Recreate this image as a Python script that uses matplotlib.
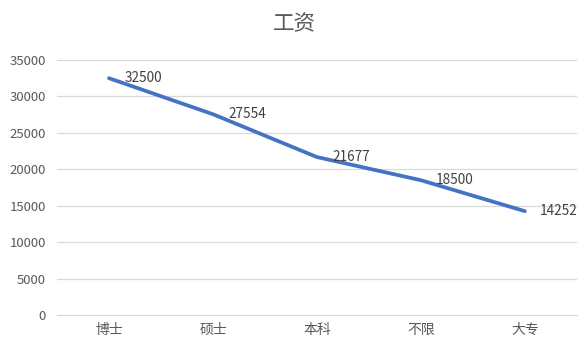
import matplotlib
matplotlib.use('Agg')
from matplotlib import pyplot as plt

plt.rcParams['font.family'] = ['Noto Sans CJK SC', 'DejaVu Sans']

#chart data
categories = ['博士', '硕士', '本科', '不限', '大专']
salary = [32500, 27554, 21677, 18500, 14252]
yticks = [0, 5000, 10000, 15000, 20000, 25000, 30000, 35000]

fig = plt.figure(figsize=(5.88, 3.5), dpi=100)
ax = fig.add_axes([0.097, 0.1, 0.884, 0.7286])

x = list(range(len(categories)))
ax.plot(x, salary, color='#4472C4', linewidth=2.7, solid_capstyle='round',
        solid_joinstyle='round', zorder=3)

#labels right of each point, drawn over the line like excel does
for xi, v in zip(x, salary):
    ax.annotate(str(v), (xi, v), xytext=(11, 0), textcoords='offset points',
                ha='left', va='center', fontsize=9.8, color='#404040', zorder=4)

ax.set_xlim(-0.5, len(categories) - 0.5)
ax.set_ylim(0, 35000)
ax.set_xticks(x)
ax.set_xticklabels(categories, fontsize=10)
ax.set_yticks(yticks)
ax.yaxis.grid(True, color='#D9D9D9', linewidth=0.9)
ax.set_axisbelow(True)
for s in ['top', 'right', 'left']:
    ax.spines[s].set_visible(False)
ax.spines['bottom'].set_color('#D9D9D9')
ax.tick_params(axis='both', length=0, colors='#595959')
ax.tick_params(axis='y', pad=8, labelsize=9.5)
ax.tick_params(axis='x', pad=6)

fig.text(0.5, 0.93, '工资', ha='center', va='center', fontsize=15.5, color='#595959')

fig.savefig('out.png', dpi=100)
